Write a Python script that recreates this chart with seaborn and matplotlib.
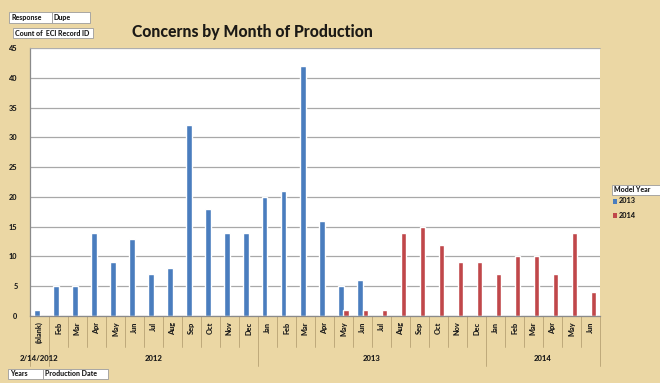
import matplotlib
matplotlib.use("Agg")
import matplotlib.pyplot as plt
import matplotlib.transforms as mtransforms
from matplotlib.patches import Rectangle
import pandas as pd
import seaborn as sns

# Production periods (unique keys) and the month labels drawn under them
periods = ["(blank)",
           "2012-02", "2012-03", "2012-04", "2012-05", "2012-06", "2012-07",
           "2012-08", "2012-09", "2012-10", "2012-11", "2012-12",
           "2013-01", "2013-02", "2013-03", "2013-04", "2013-05", "2013-06",
           "2013-07", "2013-08", "2013-09", "2013-10", "2013-11", "2013-12",
           "2014-01", "2014-02", "2014-03", "2014-04", "2014-05", "2014-06"]
month_labels = ["(blank)",
                "Feb", "Mar", "Apr", "May", "Jun", "Jul", "Aug", "Sep", "Oct", "Nov", "Dec",
                "Jan", "Feb", "Mar", "Apr", "May", "Jun", "Jul", "Aug", "Sep", "Oct", "Nov", "Dec",
                "Jan", "Feb", "Mar", "Apr", "May", "Jun"]
year_labels = ["2/14/2012", "2012", "2013", "2014"]
year_spans = [(0, 0), (1, 11), (12, 23), (24, 29)]

# Count of ECI Record ID per model year (None = no records)
count_2013 = [1, 5, 5, 14, 9, 13, 7, 8, 32, 18, 14, 14,
              20, 21, 42, 16, 5, 6, None, None, None, None, None, None,
              None, None, None, None, None, None]
count_2014 = [None, None, None, None, None, None, None, None, None, None, None, None,
              None, None, None, None, 1, 1, 1, 14, 15, 12, 9, 9,
              7, 10, 10, 7, 14, 4]

model_years = ["2013", "2014"]
colors = {"2013": "#4a7dbe", "2014": "#c0474a"}

rows = []
for yr, counts in zip(model_years, [count_2013, count_2014]):
    for p, c in zip(periods, counts):
        if c is not None:
            rows.append({"period": p, "model_year": yr, "count": c})
df = pd.DataFrame(rows)

sns.set_theme(style="white")
plt.rcParams["font.family"] = ["Lato", "DejaVu Sans"]

tan = "#ebd7a4"
ink = "#1a1a1a"
fig = plt.figure(figsize=(6.6, 3.83), dpi=100)
fig.patch.set_facecolor(tan)
W, H = 660, 383
ax = fig.add_axes([30 / W, 1 - 316 / H, 570 / W, 268 / H])
ax.set_facecolor("white")

sns.barplot(data=df, x="period", y="count", hue="model_year",
            order=periods, hue_order=model_years, palette=colors,
            width=0.6, saturation=1, legend=False, ax=ax)

ax.set_xlim(-0.5, len(periods) - 0.5)
ax.set_ylim(0, 45)
ax.set_yticks(range(0, 46, 5))
ax.yaxis.grid(True, color="#a8a8a8", linewidth=0.9)
ax.set_axisbelow(True)
ax.set_xlabel("")
ax.set_ylabel("")
for s in ["left", "bottom"]:
    ax.spines[s].set_color("#8a8a8a")
    ax.spines[s].set_linewidth(0.9)
ax.spines["top"].set_color("#b0b0b0")
ax.spines["top"].set_linewidth(0.6)
ax.spines["right"].set_visible(False)

ax.tick_params(axis="y", length=0, pad=9, labelsize=5.3, labelcolor=ink)
for t in ax.get_yticklabels():
    t.set_fontweight("black")
ax.set_xticks(range(len(periods)))
ax.set_xticklabels(month_labels, rotation=90, fontsize=5.3, fontweight="black",
                   color=ink, va="top")
ax.tick_params(axis="x", length=0, pad=4)

# Category separators below the axis, longer between years
trans = mtransforms.blended_transform_factory(ax.transData, ax.transAxes)
year_edges = {-0.5, 0.5, 11.5, 23.5, len(periods) - 0.5}
for i in range(len(periods) + 1):
    xe = i - 0.5
    depth = -0.185 if xe in year_edges else -0.115
    ax.plot([xe, xe], [0, depth], transform=trans, color="#b7a274",
            linewidth=0.6, clip_on=False)

for lab, (a, b) in zip(year_labels, year_spans):
    ax.text((a + b) / 2, -0.16, lab, transform=trans, ha="center", va="center",
            fontsize=5.6, fontweight="black", color=ink)

# Title
fig.text(252 / W, 1 - 32 / H, "Concerns by Month of Production", ha="center",
         va="center", fontsize=11.3, fontweight="black", color="#1c1a16")

# Pivot field buttons (pixel boxes)
def field(x0, x1, y0, y1, s):
    fig.patches.append(Rectangle((x0 / W, 1 - y1 / H), (x1 - x0) / W, (y1 - y0) / H,
                                 transform=fig.transFigure, facecolor="white",
                                 edgecolor="#9c9c9c", linewidth=0.6))
    fig.text((x0 + 2) / W, 1 - (y0 + y1) / 2 / H, s, ha="left", va="center",
             fontsize=5, fontweight="black", color=ink)

field(9, 52, 12, 23, "Response")
field(52, 90, 12, 23, "Dupe")
field(13, 93, 28, 38, "Count of  ECI Record ID")
field(8, 43, 369, 379, "Years")
field(43, 108, 369, 379, "Production Date")

# Legend
field(612, 660, 185, 195, "Model Year")
for k, yr in enumerate(model_years):
    yy = 201 + k * 14
    fig.patches.append(Rectangle((613 / W, 1 - (yy + 2.5) / H), 4 / W, 5 / H,
                                 transform=fig.transFigure, facecolor=colors[yr],
                                 edgecolor="none"))
    fig.text(619 / W, 1 - yy / H, yr, ha="left", va="center", fontsize=5.3,
             fontweight="black", color=ink)

fig.savefig("out.png", dpi=100, facecolor=tan)
